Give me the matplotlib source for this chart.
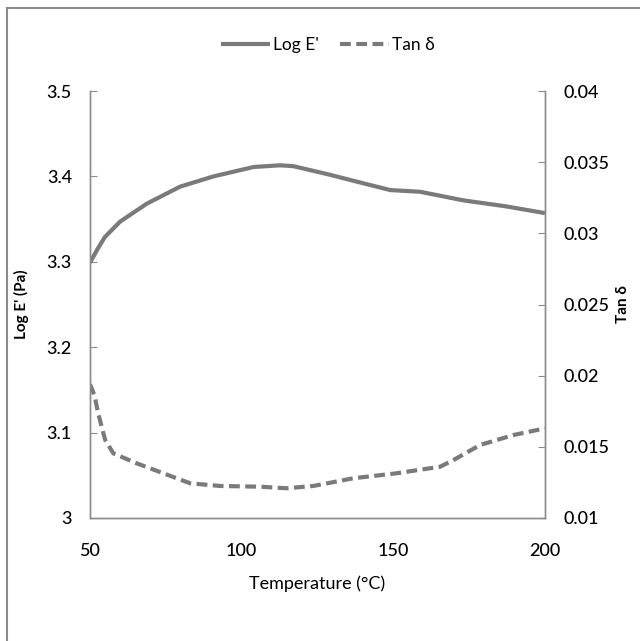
import matplotlib
matplotlib.use("Agg")
import matplotlib.pyplot as plt
from matplotlib.patches import Rectangle

plt.rcParams['font.family'] = ['Lato', 'DejaVu Sans']

# Log E' curve
temp_e = [50, 52.5, 54.9, 59.9, 68.7, 79.7, 90.7, 103.9, 112.6, 117, 129, 140, 149, 158.8, 173, 187, 200]
log_e = [3.299, 3.315, 3.329, 3.347, 3.368, 3.388, 3.400, 3.411, 3.413, 3.412, 3.402, 3.392, 3.384,
         3.382, 3.372, 3.365, 3.357]

# Tan delta curve
temp_t = [50, 51.5, 52.7, 55, 57.7, 65.4, 74.2, 83, 92.9, 106, 114.8, 123.6, 136.8, 151, 165.4,
          169.8, 178.6, 189.6, 200]
tan_d = [0.0194, 0.0186, 0.01735, 0.01548, 0.01454, 0.01384, 0.01314, 0.01244, 0.01225, 0.0122,
         0.01209, 0.01225, 0.01279, 0.01314, 0.0136, 0.01407, 0.01513, 0.01583, 0.0163]

grey = '#7a7a7a'
spine_c = '#8c8c8c'

fig = plt.figure(figsize=(6.4, 6.41), dpi=100)
# outer frame (only top and left edges visible in the reference)
fig.patches.append(Rectangle((7/640, -0.1), 1.2, 1 - 8/641 + 0.1, transform=fig.transFigure,
                             fill=False, edgecolor=spine_c, linewidth=1.5))

ax = fig.add_axes([90/640, 1 - 518/641, 455/640, 427/641])
ax2 = ax.twinx()

l1, = ax.plot(temp_e, log_e, color=grey, lw=3, solid_capstyle='butt', label="Log E'")
l2, = ax2.plot(temp_t, tan_d, color=grey, lw=3, linestyle=(0, (2.6, 1.3)), label='Tan δ')

ax.set_xlim(50, 200)
ax.set_ylim(3, 3.5)
ax2.set_ylim(0.01, 0.04)
ax.set_xticks([50, 100, 150, 200])
ax.set_yticks([3, 3.1, 3.2, 3.3, 3.4, 3.5])
ax.set_yticklabels(['3', '3.1', '3.2', '3.3', '3.4', '3.5'])
ax2.set_yticks([0.01, 0.015, 0.02, 0.025, 0.03, 0.035, 0.04])
ax2.set_yticklabels(['0.01', '0.015', '0.02', '0.025', '0.03', '0.035', '0.04'])

for a in (ax, ax2):
    a.spines['top'].set_visible(False)
    for s in a.spines.values():
        s.set_color(spine_c)
        s.set_linewidth(1)
ax.tick_params(axis='y', direction='in', length=5, color=spine_c, pad=13, labelsize=13)
ax.tick_params(axis='x', length=0, pad=18, labelsize=13)
ax2.tick_params(axis='y', direction='in', length=5, color=spine_c, pad=13, labelsize=13)
for lab in ax.get_xticklabels() + ax.get_yticklabels() + ax2.get_yticklabels():
    lab.set_fontweight('medium')

ax.set_xlabel('Temperature (°C)', fontsize=13, labelpad=12)
ax.set_ylabel("Log E' (Pa)", fontsize=11, fontweight='bold', labelpad=13)
ax2.set_ylabel('Tan δ', fontsize=11, fontweight='bold', labelpad=5)

fig.legend(handles=[l1, l2], loc='center', bbox_to_anchor=(328/640, 1 - 45/641), ncol=2,
           frameon=False, fontsize=12.5, handlelength=2.8, columnspacing=1.2, handletextpad=0.2)

fig.savefig('out.png', dpi=100)
